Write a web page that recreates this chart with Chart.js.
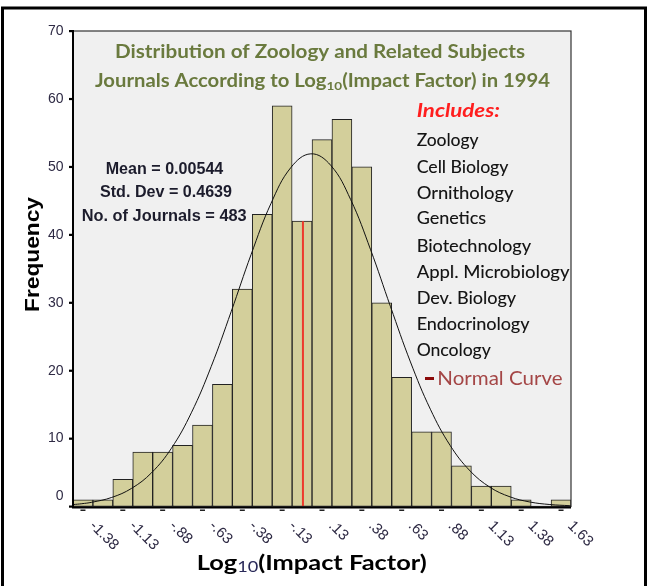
<!DOCTYPE html>
<html><head><meta charset="utf-8">
<script src="https://cdn.jsdelivr.net/npm/chart.js@4/dist/chart.umd.min.js"></script>
<style>html,body{margin:0;padding:0;background:#fff;}canvas{display:block;}</style>
</head><body>
<canvas id="c" width="647" height="586"></canvas>
<script>
// ---- data ----
const binCenters = [-1.375,-1.25,-1.125,-1.0,-0.875,-0.75,-0.625,-0.5,-0.375,-0.25,-0.125,0,0.125,0.25,0.375,0.5,0.625,0.75,0.875,1.0,1.125,1.25,1.375,1.5,1.625];
const frequencies = [1,1,4,8,8,9,12,18,32,43,59,42,54,57,50,30,19,11,11,6,3,3,1,0,1];
const xTickValues = [-1.375,-1.125,-0.875,-0.625,-0.375,-0.125,0.125,0.375,0.625,0.875,1.125,1.375,1.625];
const xTickLabels = ['-1.38','-1.13','-.88','-.63','-.38','-.13','.13','.38','.63','.88','1.13','1.38','1.63'];
const yTickValues = [0,10,20,30,40,50,60,70];
const curveX = [-1.4375,-1.3825,-1.32,-1.195,-1.07,-0.945,-0.82,-0.695,-0.57,-0.445,-0.32,-0.195,-0.07,0.055,0.18,0.305,0.43,0.555,0.68,0.805,0.93,1.055,1.18,1.305,1.43,1.555,1.68,1.6875];
const curveY = [0.28,0.41,0.62,1.33,2.67,4.96,8.57,13.79,20.62,28.68,37.09,44.62,49.91,51.92,50.22,45.18,37.80,29.41,21.28,14.32,8.96,5.22,2.82,1.42,0.66,0.29,0.12,0.11];
const meanValue = 0.00544;
const meanLineTop = 42;
const titleLine1 = 'Distribution of Zoology and Related Subjects';
const titleLine2 = ['Journals According to Log', '10', '(Impact Factor) in 1994'];
const statsLines = ['Mean = 0.00544', 'Std. Dev = 0.4639', 'No. of Journals = 483'];
const includesHeader = 'Includes:';
const includesList = ['Zoology','Cell Biology','Ornithology','Genetics','Biotechnology','Appl. Microbiology','Dev. Biology','Endocrinology','Oncology'];
const curveLegend = 'Normal Curve';
const xTitle = ['Log', '10', '(Impact Factor)'];
const yTitle = 'Frequency';

// ---- helpers ----
function fitText(ctx, text, x, y, font, targetW, align, color) {
  ctx.save();
  ctx.font = font; ctx.fillStyle = color; ctx.textBaseline = 'alphabetic'; ctx.textAlign = 'left';
  const w = ctx.measureText(text).width;
  const sx = targetW ? targetW / w : 1;
  let x0 = x;
  if (align === 'center') x0 = x - w * sx / 2; else if (align === 'right') x0 = x - w * sx;
  ctx.translate(x0, y); ctx.scale(sx, 1); ctx.fillText(text, 0, 0);
  ctx.restore();
}
function drawSegments(ctx, segs, cx, y, targetW) {
  ctx.save();
  let total = 0;
  segs.forEach(s => { ctx.font = s.font; s.w = ctx.measureText(s.t).width; total += s.w; });
  const sx = targetW / total;
  ctx.translate(cx - total * sx / 2, y); ctx.scale(sx, 1);
  ctx.textBaseline = 'alphabetic'; ctx.textAlign = 'left';
  let x = 0;
  segs.forEach(s => { ctx.font = s.font; ctx.fillStyle = s.color; ctx.fillText(s.t, x, s.dy || 0); x += s.w; });
  ctx.restore();
}

const decor = {
  id: 'decor',
  beforeDraw(chart) {
    const c = chart.ctx, a = chart.chartArea;
    c.save();
    c.fillStyle = '#ffffff'; c.fillRect(0, 0, chart.width, chart.height);
    c.fillStyle = '#f0f0f0'; c.fillRect(a.left, a.top, a.right - a.left, a.bottom - a.top);
    c.restore();
  },
  afterDatasetsDraw(chart) {
    const c = chart.ctx, a = chart.chartArea, xs = chart.scales.x, ys = chart.scales.y;
    c.save();
    // plot frame
    c.strokeStyle = '#333'; c.lineWidth = 1.2;
    c.strokeRect(a.left, a.top, a.right - a.left, a.bottom - a.top);
    c.strokeStyle = '#000'; c.lineWidth = 2;
    c.beginPath(); c.moveTo(a.left, a.top - 1); c.lineTo(a.left, a.bottom + 1); c.lineTo(a.right, a.bottom + 1); c.stroke();
    // y ticks + labels
    c.fillStyle = '#000';
    yTickValues.forEach(v => {
      const py = ys.getPixelForValue(v);
      c.fillRect(a.left - 4, py - 1, 4, 2.2);
      c.save();
      c.font = '14px "Liberation Sans", Arial, sans-serif';
      c.fillStyle = '#2e2a44'; c.textAlign = 'right'; c.textBaseline = 'middle';
      c.fillText(String(v), a.left - 9.5, v === 0 ? py - 10 : py);
      c.restore();
    });
    // x ticks + rotated labels
    xTickValues.forEach((v, i) => {
      const px = xs.getPixelForValue(v);
      c.fillStyle = '#222';
      c.fillRect(px - 2.5, a.bottom + 3, 5, 1.5);
      c.save();
      c.translate(px + 9, a.bottom + 17);
      c.rotate(Math.PI / 4);
      c.font = '15px "Liberation Sans", Arial, sans-serif';
      c.fillStyle = '#2e2a44'; c.textAlign = 'left'; c.textBaseline = 'middle';
      c.fillText(xTickLabels[i], 0, 0);
      c.restore();
    });
    // axis titles
    c.save();
    c.translate(38.5, 254.5); c.rotate(-Math.PI / 2);
    fitText(c, yTitle, 0, 0, 'bold 21px "Liberation Sans", Arial, sans-serif', 115, 'center', '#000');
    c.restore();
    drawSegments(c, [
      { t: xTitle[0], font: 'bold 21px Lato, "Open Sans", sans-serif', color: '#000' },
      { t: xTitle[1], font: '15px Lato, "Open Sans", sans-serif', color: '#2b2b5a', dy: 2 },
      { t: xTitle[2], font: 'bold 21px Lato, "Open Sans", sans-serif', color: '#000' }
    ], 311.7, 570, 230);
    // chart title
    fitText(c, titleLine1, 320, 58, 'bold 18px Lato, "Open Sans", sans-serif', 410, 'center', '#6a7a3e');
    drawSegments(c, [
      { t: titleLine2[0], font: 'bold 18px Lato, "Open Sans", sans-serif', color: '#6a7a3e' },
      { t: titleLine2[1], font: 'bold 12px Lato, "Open Sans", sans-serif', color: '#6a7a3e', dy: 3 },
      { t: titleLine2[2], font: 'bold 18px Lato, "Open Sans", sans-serif', color: '#6a7a3e' }
    ], 322.5, 86.5, 455);
    // stats
    const statW = [117.6, 132, 165];
    const statCx = [164.5, 166, 164.2];
    const statY = [173.5, 197, 221];
    statsLines.forEach((t, i) => fitText(c, t, statCx[i], statY[i], 'bold 17px "Liberation Sans Narrow", "Liberation Sans", Arial, sans-serif', statW[i], 'center', '#1c1c2c'));
    // includes list
    fitText(c, includesHeader, 416.7, 116.5, 'italic bold 18px Lato, "Open Sans", sans-serif', 83.3, 'left', '#ff1e1e');
    const incW = [61.7, 91.7, 96.7, 69.3, 114.3, 152.7, 99.3, 112.7, 74];
    const incY = [146, 172.5, 198.5, 224, 251.5, 278, 304, 330, 355.7];
    includesList.forEach((t, i) => {
      fitText(c, t, 416.7, incY[i], '17.5px Lato, "Open Sans", sans-serif', incW[i], 'left', '#141414');
      fitText(c, t, 417.0, incY[i], '17.5px Lato, "Open Sans", sans-serif', incW[i], 'left', 'rgba(20,20,20,0.35)');
    });
    c.fillStyle = '#8b0a0a';
    c.fillRect(425, 377, 9, 3);
    fitText(c, curveLegend, 437.3, 385, '20px Lato, "Open Sans", sans-serif', 125.3, 'left', '#a44646');
    // outer frame
    c.strokeStyle = '#000'; c.lineWidth = 3;
    c.strokeRect(2.5, 8, 643, 620);
    c.restore();
  }
};

new Chart(document.getElementById('c'), {
  type: 'bar',
  data: {
    datasets: [
      {
        type: 'line', label: 'Normal Curve', order: 0,
        data: curveX.map((x, i) => ({ x: x, y: curveY[i] })),
        borderColor: '#111', borderWidth: 1, pointRadius: 0, tension: 0.4, fill: false
      },
      {
        type: 'line', label: 'Mean', order: 1,
        data: [{ x: meanValue, y: 0 }, { x: meanValue, y: meanLineTop }],
        borderColor: '#ee3a2c', borderWidth: 2, pointRadius: 0, fill: false
      },
      {
        type: 'bar', label: 'Frequency', order: 2,
        data: binCenters.map((x, i) => ({ x: x, y: frequencies[i] })),
        backgroundColor: '#d3cf9b', borderColor: '#222', borderWidth: 1, borderSkipped: false,
        barPercentage: 1, categoryPercentage: 1
      }
    ]
  },
  options: {
    responsive: false, animation: false, devicePixelRatio: 1,
    layout: { padding: { top: 31, right: 76, left: 0, bottom: 0 } },
    plugins: { legend: { display: false }, tooltip: { enabled: false }, title: { display: false } },
    scales: {
      x: { type: 'linear', min: -1.4375, max: 1.6875, offset: false,
           grid: { display: false }, border: { display: false }, ticks: { display: false },
           afterFit(s) { s.height = 79.5; } },
      y: { type: 'linear', min: 0, max: 70,
           grid: { display: false }, border: { display: false }, ticks: { display: false, stepSize: 10 },
           afterFit(s) { s.width = 73; } }
    }
  },
  plugins: [decor]
});
</script>
</body></html>
